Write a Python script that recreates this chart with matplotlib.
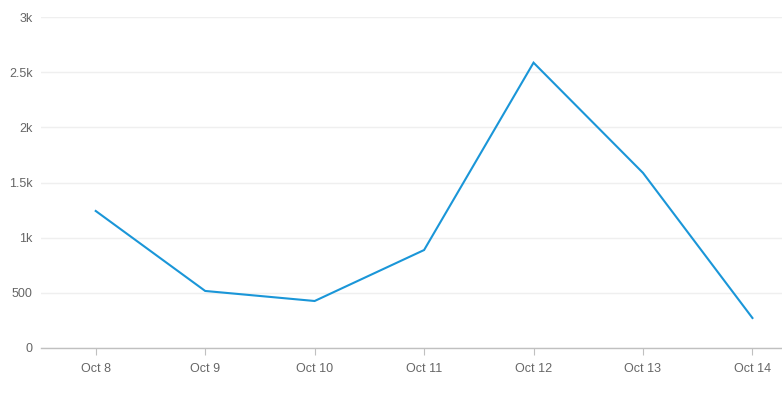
import numpy as np
import matplotlib.pyplot as plt
from matplotlib.ticker import FuncFormatter

days = ["Oct 8", "Oct 9", "Oct 10", "Oct 11", "Oct 12", "Oct 13", "Oct 14"]
counts = [1242, 517, 426, 888, 2586, 1587, 272]
y_ticks = [0, 500, 1000, 1500, 2000, 2500, 3000]


def fmt_k(v, pos):
    if v == 0:
        return "0"
    if v >= 1000:
        s = "%g" % (v / 1000.0)
        return s + "k"
    return "%d" % v


plt.rcParams['font.family'] = ['Liberation Sans', 'DejaVu Sans']

fig = plt.figure(figsize=(7.82, 3.96), dpi=100)
ax = fig.add_axes([41 / 782, 48 / 396, 1 - 41 / 782, (348 - 17) / 396])

x = np.arange(len(days))
ax.plot(x, counts, color='#1a96d8', linewidth=1.5, solid_joinstyle='miter', zorder=3)

ax.set_xlim(-0.5, 6.27)
ax.set_ylim(0, 3000)
ax.set_xticks(x)
ax.set_xticklabels(days)
ax.set_yticks(y_ticks)
ax.yaxis.set_major_formatter(FuncFormatter(fmt_k))

ax.grid(axis='y', color='#efefef', linewidth=1)
ax.set_axisbelow(True)
for side in ['top', 'right', 'left']:
    ax.spines[side].set_visible(False)
ax.spines['bottom'].set_color('#c0c0c0')
ax.spines['bottom'].set_linewidth(1)

ax.tick_params(axis='x', length=5, color='#c0c0c0', labelcolor='#666666',
               labelsize=9, pad=6)
ax.tick_params(axis='y', length=0, labelcolor='#666666', labelsize=9, pad=6)

fig.savefig('out.png', dpi=100)
